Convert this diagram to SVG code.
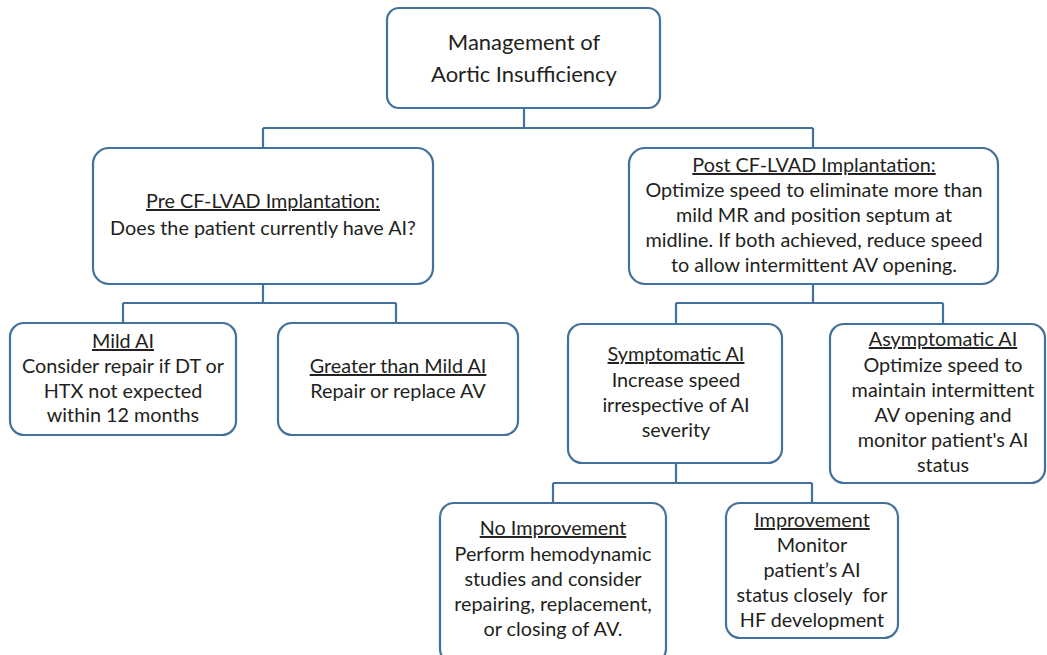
<svg xmlns="http://www.w3.org/2000/svg" width="1047" height="655" viewBox="0 0 1047 655">
<style>
.box{fill:#fff;stroke:#41719c;stroke-width:2.2}
.con{fill:none;stroke:#41719c;stroke-width:2.2}
text{font-family:Lato,"Open Sans","Liberation Sans",sans-serif;font-size:19.8px;fill:#231f20;text-anchor:middle}
.root{font-size:22px}
.u{text-decoration:underline}
.pre{white-space:pre}
</style>
<rect width="1047" height="655" fill="#fff"/>
<g id="connectors">
<path class="con" d="M524,108V128M263,128H813M263,128V148M813,128V148"/>
<path class="con" d="M263,284V303M123,303H396M123,303V323M396,303V323"/>
<path class="con" d="M813,284V303M676,303H943M676,303V323M943,303V323"/>
<path class="con" d="M676,463V483M553,483H812M553,483V503M812,483V503"/>
</g>
<g id="root">
<rect class="box" x="387" y="8" width="273" height="100" rx="12"/>
<text class="root" x="524" y="50">Management of</text>
<text class="root" x="524" y="82">Aortic Insufficiency</text>
</g>
<g id="pre">
<rect class="box" x="93" y="148" width="340" height="136" rx="16"/>
<text x="263" y="208" class="u">Pre CF-LVAD Implantation:</text>
<text x="263" y="235">Does the patient currently have AI?</text>
</g>
<g id="post">
<rect class="box" x="629" y="148" width="369" height="136" rx="16"/>
<text x="814" y="172" class="u">Post CF-LVAD Implantation:</text>
<text x="814" y="197">Optimize speed to eliminate more than</text>
<text x="814" y="222">mild MR and position septum at</text>
<text x="814" y="247">midline. If both achieved, reduce speed</text>
<text x="814" y="272">to allow intermittent AV opening.</text>
</g>
<g id="mild">
<rect class="box" x="10" y="323" width="226" height="112" rx="14"/>
<text x="123" y="348" class="u">Mild AI</text>
<text x="123" y="373">Consider repair if DT or</text>
<text x="123" y="398">HTX not expected</text>
<text x="123" y="422">within 12 months</text>
</g>
<g id="greater">
<rect class="box" x="278" y="323" width="240" height="112" rx="14"/>
<text x="398" y="373" class="u">Greater than Mild AI</text>
<text x="398" y="398">Repair or replace AV</text>
</g>
<g id="symptomatic">
<rect class="box" x="568" y="324" width="214" height="139" rx="14"/>
<text x="676" y="361" class="u">Symptomatic AI</text>
<text x="676" y="387">Increase speed</text>
<text x="676" y="412">irrespective of AI</text>
<text x="676" y="437">severity</text>
</g>
<g id="asymptomatic">
<rect class="box" x="830" y="324" width="215" height="159" rx="14"/>
<text x="943" y="346" class="u">Asymptomatic AI</text>
<text x="943" y="372">Optimize speed to</text>
<text x="943" y="397">maintain intermittent</text>
<text x="943" y="422">AV opening and</text>
<text x="943" y="447">monitor patient's AI</text>
<text x="943" y="472">status</text>
</g>
<g id="noimprovement">
<rect class="box" x="440" y="503" width="226" height="160" rx="14"/>
<text x="553" y="535" class="u">No Improvement</text>
<text x="553" y="561">Perform hemodynamic</text>
<text x="553" y="586">studies and consider</text>
<text x="553" y="611">repairing, replacement,</text>
<text x="553" y="636">or closing of AV.</text>
</g>
<g id="improvement">
<rect class="box" x="726" y="503" width="172" height="135" rx="14"/>
<text x="812" y="527" class="u">Improvement</text>
<text x="812" y="552">Monitor</text>
<text x="812" y="577">patient’s AI</text>
<text x="812" y="602" class="pre">status closely  for</text>
<text x="812" y="627">HF development</text>
</g>
</svg>
